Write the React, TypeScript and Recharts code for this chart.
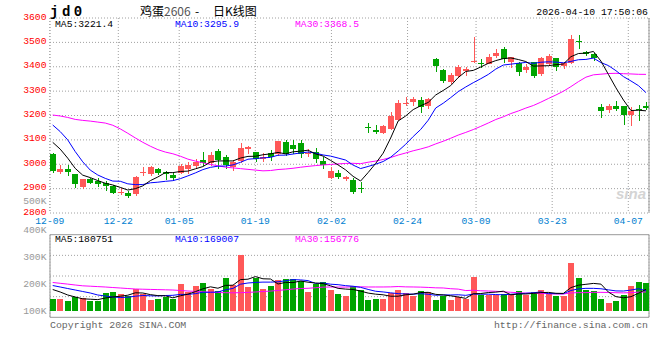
import React from 'react';
import { ComposedChart, Bar, Line, XAxis, YAxis, CartesianGrid, ReferenceLine, ReferenceArea, Cell } from 'recharts';

// ---------- data ----------
const dateTickIndex = [0, 9, 17, 27, 37, 47, 56, 66, 76];
const dateTickLabels = ['12-09', '12-22', '01-05', '01-19', '02-02', '02-24', '03-09', '03-23', '04-07'];
const priceTicks = [2800, 2900, 3000, 3100, 3200, 3300, 3400, 3500, 3600];
const volTicks = [100000, 200000, 300000, 400000];
const volTickLabels = ['100K', '200K', '300K', '400K'];

const opens = [3042,2965,2979,2960,2904,2941,2931,2924,2911,2886,
2883,2877,2968,2960,2979,2969,2956,2965,2979,2994,
3017,3004,3054,3028,2990,3010,3062,3049,3020,3045,
3042,3090,3079,3086,3045,3049,3014,2945,2965,2938,
2935,2903,3152,3142,3130,3145,3182,3248,3252,3264,
3236,3430,3387,3339,3363,3380,3420,3416,3414,3445,
3472,3418,3417,3387,3420,3369,3410,3435,3400,3414,
3505,3459,3451,3234,3222,3239,3239,3202,3225,3237];
const highs = [3047,2997,2997,2962,2940,2944,2942,2931,2915,2901,
2891,2950,2990,2993,2985,2973,2965,3000,3010,3022,
3051,3051,3061,3040,3017,3088,3075,3049,3045,3058,
3095,3099,3099,3099,3062,3065,3028,2987,2977,2952,
2942,2928,3170,3160,3163,3215,3264,3277,3277,3277,
3270,3435,3390,3375,3407,3398,3520,3430,3452,3472,
3482,3441,3420,3410,3420,3441,3451,3435,3417,3530,
3530,3465,3455,3247,3247,3260,3239,3234,3243,3255];
const lows = [2968,2963,2956,2905,2902,2922,2911,2894,2881,2878,
2867,2875,2956,2956,2960,2938,2935,2963,2965,2990,
2997,2995,2983,2985,2977,3010,3047,3014,3015,3017,
3037,3037,3045,3031,3034,3010,2983,2942,2945,2935,
2881,2887,3133,3128,3128,3145,3182,3243,3243,3215,
3230,3384,3339,3335,3360,3366,3418,3398,3414,3441,
3420,3400,3366,3380,3357,3366,3407,3387,3393,3414,
3476,3448,3428,3193,3216,3222,3165,3160,3180,3225];
const closes = [2974,2979,2967,2918,2938,2924,2918,2912,2883,2888,
2870,2946,2970,2990,2963,2960,2945,2994,2997,3010,
3006,3038,3017,2997,3010,3065,3072,3020,3028,3028,
3095,3042,3062,3042,3047,3020,2997,2973,2949,2946,
2887,2901,3147,3135,3157,3198,3250,3250,3266,3236,
3266,3403,3343,3366,3401,3390,3425,3413,3441,3457,
3431,3439,3380,3400,3363,3435,3444,3400,3414,3513,
3500,3452,3435,3216,3239,3225,3202,3220,3222,3227];

const ma5 = [3090,3062,3025,2983,2955.2,2945.2,2933,2922,2915,2905,
2894.2,2899.8,2911.4,2932.8,2947.8,2965.8,2965.6,2970.4,2971.8,2981.2,
2990.4,3009,3013.6,3013.6,3013.6,3025.4,3032.2,3032.8,3039,3042.6,
3048.6,3042.6,3051,3053.8,3057.6,3042.6,3033.6,3015.8,2997.2,2977,
2950.4,2931.2,2966,3003.2,3045.4,3107.6,3177.4,3198,3224.2,3240,
3253.6,3284.2,3302.8,3322.8,3355.8,3380.6,3385,3399,3414,3425.2,
3433.4,3436.2,3429.6,3421.4,3402.6,3403.4,3404.4,3408.4,3411.2,3441.2,
3454.2,3455.8,3462.8,3423.2,3368.4,3313.4,3263.4,3220.4,3221.6,3219.2];
const ma10 = [3161,3134,3100,3052,3010,2976,2956,2942,2931,2930.1,
2919.7,2916.4,2916.7,2923.9,2926.4,2930,2932.7,2940.9,2952.3,2964.5,
2978.1,2987.3,2992,2992.7,2997.4,3007.9,3020.6,3023.2,3026.3,3028.1,
3037,3037.4,3041.9,3046.4,3050.1,3045.6,3038.1,3033.4,3025.5,3017.3,
2996.5,2982.4,2990.9,3000.2,3011.2,3029,3054.3,3082,3113.7,3142.7,
3180.6,3230.8,3250.4,3273.5,3297.9,3317.1,3334.6,3350.9,3368.4,3390.5,
3407,3410.6,3414.3,3417.7,3413.9,3418.4,3420.3,3419,3416.3,3421.9,
3428.8,3430.1,3435.6,3417.2,3404.8,3383.8,3359.6,3341.6,3322.4,3293.8];
const ma30 = [3202,3198,3192,3184,3180,3177,3173,3169,3160,3145,
3127,3108,3090,3074,3060,3050,3043,3033,3021,3013,
3006,2999,2994,2988,2985,2982,2979,2976,2973,2974.2,
2978.3,2980.4,2983.5,2987.7,2991.3,2994.5,2997.1,2999.2,3001.4,3003.3,
3003.9,3002.4,3008.3,3013.1,3019.6,3027.5,3037.7,3046.2,3055.2,3062.7,
3071.4,3083.5,3094.4,3106.7,3119.7,3130.6,3142.3,3155.4,3169.2,3183.5,
3194.7,3207.9,3218.5,3230.5,3241,3254.8,3269.7,3284,3299.5,3318.4,
3338.8,3357.2,3366.8,3369.5,3372.2,3373.1,3371.5,3370.5,3369,3368.7];

const volumes = [144400,144400,137000,151900,148100,137000,137000,166700,170400,163000,
155600,181500,163000,140700,144400,151900,144400,200000,170400,192600,
203700,181500,174100,222200,196300,307400,188900,222200,181500,192600,
214800,218500,218500,211100,170400,200000,207400,177800,164100,156700,
192600,177800,140700,144400,144400,166700,177800,166700,156700,174100,
170400,140700,155600,140700,151900,145600,225900,159300,159300,159300,
163000,159300,174100,159300,170400,177800,163000,157400,157400,277800,
222200,179600,174100,144400,129600,138100,159300,193700,207400,203700];
const volMa5 = [179600,170400,159300,151900,145200,143700,142200,148100,151900,154800,
158500,167400,166700,160700,157000,156300,148900,156300,162200,171900,
182200,189600,184400,194800,195600,216300,217800,227400,219300,218500,
200000,205900,205200,211100,206700,203700,201500,193300,183900,181200,
179700,173800,166400,162400,160000,154800,154800,160000,162400,168400,
169100,161700,159500,156300,151900,146900,163900,164700,168400,169900,
173300,160000,163000,163000,165200,168100,168900,165600,165200,186700,
195600,198900,202200,199600,170000,153200,149100,153000,165600,180400];
const volMa10 = [194400,188900,183300,177800,172200,166700,159300,155600,151900,150000,
151100,154800,157400,156300,155900,157400,158100,161500,161500,164400,
169300,169300,170400,178500,183700,199300,203700,205900,207000,207000,
208100,211900,216300,215200,212600,201900,203700,199300,197500,193900,
191700,187600,179900,173200,170600,167300,164300,163200,162400,164200,
162000,158300,159700,159400,160100,158000,162800,162100,162300,160900,
160100,162000,163800,165700,167500,170700,164400,164300,164100,175900,
181900,183900,183900,182400,178300,174400,174000,177600,182600,175200];
const volMa30 = [205600,202600,199600,196300,193300,191900,190400,188900,187000,185200,
183300,181500,180700,180000,179300,178500,177800,175900,174100,172600,
171100,169600,168500,167800,167400,167800,168900,170400,172200,173800,
176200,178600,181400,183300,184100,186200,188500,188900,188700,188500,
189700,189600,188900,189000,189000,189400,190600,189400,189000,188400,
187300,185900,185300,182600,181100,175700,176900,174900,174100,173000,
171300,169300,167800,166100,166100,165300,163900,163200,163000,167000,
168000,168000,169100,169100,168700,167700,167100,168000,169700,170700];

const VOL_FLOOR = 100000;

const rows = closes.map((c, i) => ({
  i,
  open: opens[i], high: highs[i], low: lows[i], close: c,
  ma5: ma5[i], ma10: ma10[i], ma30: ma30[i],
  vol: volumes[i], vma5: volMa5[i], vma10: volMa10[i], vma30: volMa30[i],
}));

// ---------- style ----------
const FONT = '"Liberation Mono", "DejaVu Sans Mono", monospace';
const RED = '#ff5858';
const GREEN = '#00a400';
const GRID = '#a0a0a0';
const FRAME = '#999999';
const DATA_DOMAIN: [number, number] = [-0.36, 79.4];
const DATE_DOMAIN: [number, number] = [0.026, 78.72];
const VOL_DOMAIN: [number, number] = [76700, 382600];

const Candle = (p: any) => {
  const { x, y, width, height, payload } = p;
  if (x == null || payload == null) return null;
  const top = height >= 0 ? y : y + height;
  const h = Math.abs(height);
  const { open, close, high, low } = payload;
  const k = high > low ? h / (high - low) : 0;
  const yO = top + (high - open) * k;
  const yC = top + (high - close) * k;
  const color = close >= open ? RED : GREEN;
  const cx = Math.round(x + width / 2) + 0.5;
  const bTop = Math.round(Math.min(yO, yC));
  const bH = Math.max(1, Math.round(Math.abs(yO - yC)));
  return (
    <g shapeRendering="crispEdges">
      <line x1={cx} x2={cx} y1={Math.round(top)} y2={Math.round(top + h) + 1} stroke={color} strokeWidth={1} />
      <rect x={Math.round(cx - 3.5)} y={bTop} width={6} height={bH} fill={color} />
    </g>
  );
};

const VolBar = (p: any) => {
  const { x, y, width, height, fill } = p;
  if (x == null) return null;
  const top = height >= 0 ? y : y + height;
  const h = Math.abs(height);
  const cx = Math.round(x + width / 2);
  return <rect x={cx - 3} y={Math.round(top)} width={6} height={Math.round(h)} fill={fill} shapeRendering="crispEdges" />;
};

const PriceTick = (p: any) => (
  <text x={p.x} y={p.y + 1.5} textAnchor="end" fill="#ff0000" fontSize={9.7} fontFamily={FONT}>
    {p.payload.value}
  </text>
);

const DateTick = (p: any) => {
  const idx = dateTickIndex.indexOf(p.payload.value);
  return (
    <text x={p.x} y={p.y + 11.3} textAnchor="middle" fill="#0080d0" fontSize={9.7} fontFamily={FONT}>
      {idx >= 0 ? dateTickLabels[idx] : ''}
    </text>
  );
};

const VolTick = (p: any) => {
  const idx = volTicks.indexOf(p.payload.value);
  return (
    <text x={p.x} y={p.y + 3} textAnchor="end" fill="#999999" fontSize={9.7} fontFamily={FONT}>
      {idx >= 0 ? volTickLabels[idx] : ''}
    </text>
  );
};

const quarterLines = ({ offset }: any) => [1, 2, 3].map((k) => offset.top + (offset.height * k) / 4);

export default function App() {
  return (
    <div style={{ position: 'absolute', left: 0, top: 0, width: 660, height: 360, background: '#fff', overflow: 'hidden' }}>
      {/* price chart */}
      <div style={{ position: 'absolute', left: 0, top: 0 }}>
        <ComposedChart width={660} height={230} data={rows} margin={{ top: 18, right: 11, bottom: 0, left: 0 }}>
          <XAxis xAxisId="dates" dataKey="i" type="number" domain={DATE_DOMAIN} allowDataOverflow orientation="bottom"
            ticks={dateTickIndex} interval={0} tick={<DateTick />} tickLine={false} axisLine={false}
            tickSize={0} tickMargin={0} height={17} />
          <XAxis xAxisId="data" dataKey="i" type="number" domain={DATA_DOMAIN} allowDataOverflow hide orientation="top" height={0} />
          <YAxis yAxisId="price" type="number" domain={[2800, 3600]} allowDataOverflow ticks={priceTicks}
            interval={0} tick={<PriceTick />} tickLine={false} axisLine={false} tickSize={0} tickMargin={3.5} width={50} />
          <CartesianGrid xAxisId="dates" yAxisId="price" stroke={GRID} strokeDasharray="1 2" />
          <ReferenceLine xAxisId="data" yAxisId="price" x={DATA_DOMAIN[1]} stroke={FRAME} strokeWidth={1} ifOverflow="visible" />
          <Bar xAxisId="data" yAxisId="price" dataKey={(d: any) => [d.low, d.high]} barSize={6}
            shape={<Candle />} isAnimationActive={false} />
          <Line xAxisId="data" yAxisId="price" dataKey="ma30" stroke="#ff00ff" strokeWidth={1} dot={false} isAnimationActive={false} />
          <Line xAxisId="data" yAxisId="price" dataKey="ma10" stroke="#0000ff" strokeWidth={1} dot={false} isAnimationActive={false} />
          <Line xAxisId="data" yAxisId="price" dataKey="ma5" stroke="#000000" strokeWidth={1} dot={false} isAnimationActive={false} />
        </ComposedChart>
      </div>

      {/* volume chart */}
      <div style={{ position: 'absolute', left: 0, top: 226 }}>
        <ComposedChart width={660} height={110} data={rows} margin={{ top: 8.7, right: 11, bottom: 18.7, left: 0 }}>
          <XAxis xAxisId="dates" dataKey="i" type="number" domain={DATE_DOMAIN} allowDataOverflow orientation="bottom"
            ticks={dateTickIndex} interval={0} tick={false} tickLine={false} axisLine={false} height={0} />
          <XAxis xAxisId="data" dataKey="i" type="number" domain={DATA_DOMAIN} allowDataOverflow hide orientation="top" height={0} />
          <YAxis yAxisId="vol" type="number" domain={VOL_DOMAIN} allowDataOverflow ticks={volTicks}
            interval={0} tick={<VolTick />} tickLine={false} axisLine={false} tickSize={0} tickMargin={3.5} width={50} />
          <CartesianGrid xAxisId="dates" yAxisId="vol" stroke={GRID} strokeDasharray="1 2"
            horizontalCoordinatesGenerator={quarterLines} />
          <Bar xAxisId="data" yAxisId="vol" dataKey={(d: any) => [VOL_FLOOR, d.vol]} barSize={6}
            shape={<VolBar />} isAnimationActive={false}>
            {rows.map((r) => (
              <Cell key={r.i} fill={r.close >= r.open ? RED : GREEN} />
            ))}
          </Bar>
          <Line xAxisId="data" yAxisId="vol" dataKey="vma30" stroke="#ff00ff" strokeWidth={1} dot={false} isAnimationActive={false} />
          <Line xAxisId="data" yAxisId="vol" dataKey="vma10" stroke="#0000ff" strokeWidth={1} dot={false} isAnimationActive={false} />
          <Line xAxisId="data" yAxisId="vol" dataKey="vma5" stroke="#000000" strokeWidth={1} dot={false} isAnimationActive={false} />
          <ReferenceArea xAxisId="data" yAxisId="vol" x1={DATA_DOMAIN[0]} x2={DATA_DOMAIN[1]} y1={VOL_DOMAIN[0]} y2={VOL_DOMAIN[1]}
            fill="none" fillOpacity={0} stroke={FRAME} strokeWidth={1} ifOverflow="visible" />
        </ComposedChart>
      </div>

      {/* texts */}
      <svg width={660} height={360} style={{ position: 'absolute', left: 0, top: 0, pointerEvents: 'none' }}>
        <text x={50} y={16} fontSize={14} fontWeight="bold" fontFamily={FONT} letterSpacing={3.5} fill="#000">jd0</text>
        <text x={140} y={16} fontSize={12} fontFamily='"Noto Sans CJK SC", sans-serif' fill="#000">
          鸡蛋<tspan fill="#555">2606</tspan>
        </text>
        <text x={195} y={16} fontSize={12} fontFamily='"Noto Sans CJK SC", sans-serif' fill="#000">-</text>
        <text x={213} y={16} fontSize={12} fontFamily='"Noto Sans CJK SC", sans-serif' fill="#000">日K线图</text>
        <text x={648} y={15} textAnchor="end" fontSize={9.8} fontFamily={FONT} fill="#000">2026-04-10 17:50:06</text>

        <text x={55} y={27.4} fontSize={9.7} fontFamily={FONT} fill="#000">MA5:3221.4</text>
        <text x={175} y={27.4} fontSize={9.7} fontFamily={FONT} fill="#0000ff">MA10:3295.9</text>
        <text x={295} y={27.4} fontSize={9.7} fontFamily={FONT} fill="#ff00ff">MA30:3368.5</text>

        <text x={46.5} y={203.5} textAnchor="end" fontSize={9.7} fontFamily={FONT} fill="#999">500K</text>

        <text x={55} y={242.1} fontSize={9.7} fontFamily={FONT} fill="#000">MA5:180751</text>
        <text x={175} y={242.1} fontSize={9.7} fontFamily={FONT} fill="#0000ff">MA10:169007</text>
        <text x={295} y={242.1} fontSize={9.7} fontFamily={FONT} fill="#ff00ff">MA30:156776</text>

        <text x={616} y={199} fontSize={15} fontStyle="italic" fontWeight="bold" fontFamily="Arial, sans-serif" fill="#d4d4d4">sina</text>

        <text x={50} y={327.5} fontSize={9.9} fontFamily={FONT} fill="#666">Copyright 2026 SINA.COM</text>
        <text x={648} y={327.5} textAnchor="end" fontSize={9.9} fontFamily={FONT} fill="#666">http://finance.sina.com.cn</text>
      </svg>
    </div>
  );
}
